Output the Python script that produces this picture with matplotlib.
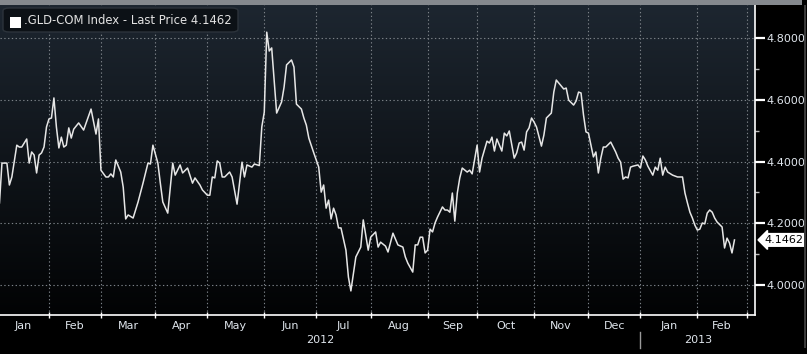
import numpy as np
import pandas as pd
import matplotlib
matplotlib.use("Agg")
import matplotlib.pyplot as plt
from matplotlib.patches import FancyBboxPatch, Rectangle
from matplotlib.transforms import blended_transform_factory

# trading session number, counted from 2012-01-03 (business days)
session = [
    1, 2, 4, 5, 6, 8, 9, 10, 12, 13, 14, 15, 16, 17, 18, 19, 20, 21, 22, 23,
    24, 25, 26, 27, 28, 29, 30, 31, 33, 35, 36, 38, 40, 41, 42, 44, 45, 46, 47, 48,
    50, 51, 52, 53, 55, 56, 57, 59, 61, 62, 63, 65, 66, 67, 69, 71, 72, 74, 75, 77,
    79, 80, 82, 83, 85, 86, 87, 88, 89, 90, 91, 92, 94, 95, 97, 99, 100, 101, 103, 104,
    106, 107, 108, 109, 110, 111, 113, 115, 116, 117, 119, 120, 121, 123, 124, 125, 126, 128, 130, 131,
    132, 133, 134, 135, 136, 137, 138, 139, 141, 142, 143, 145, 147, 148, 150, 151, 153, 154, 155, 157,
    158, 160, 162, 164, 165, 166, 168, 169, 170, 171, 172, 173, 174, 175, 176, 177, 178, 180, 181, 182,
    183, 184, 185, 186, 187, 188, 190, 191, 192, 194, 195, 196, 198, 199, 200, 201, 202, 204, 205, 206,
    207, 209, 210, 211, 212, 213, 214, 215, 216, 217, 218, 220, 221, 222, 224, 225, 226, 228, 229, 230,
    231, 233, 234, 235, 236, 237, 238, 239, 241, 242, 243, 244, 245, 246, 248, 250, 251, 252, 253, 254,
    255, 256, 257, 259, 260, 261, 262, 263, 265, 266, 267, 268, 269, 270, 271, 273, 274, 275, 276, 277,
    278, 279, 280, 281, 282, 283, 284, 285, 286, 287, 288, 289, 290, 291, 293, 294, 295, 296, 297, 298,
]
price = [
    4.266, 4.395, 4.395, 4.324, 4.350, 4.453, 4.447, 4.447, 4.473, 4.395, 4.431, 4.421, 4.363, 4.421, 4.428, 4.447, 4.512, 4.538, 4.541, 4.606,
    4.512, 4.444, 4.479, 4.447, 4.453, 4.509, 4.476, 4.505, 4.525, 4.502, 4.525, 4.570, 4.489, 4.538, 4.372, 4.350, 4.350, 4.360, 4.350, 4.405,
    4.366, 4.317, 4.214, 4.227, 4.217, 4.243, 4.269, 4.330, 4.395, 4.392, 4.453, 4.395, 4.330, 4.269, 4.233, 4.395, 4.356, 4.389, 4.363, 4.379,
    4.330, 4.347, 4.324, 4.308, 4.291, 4.291, 4.350, 4.347, 4.402, 4.395, 4.350, 4.350, 4.366, 4.350, 4.262, 4.398, 4.350, 4.389, 4.382, 4.392,
    4.387, 4.512, 4.560, 4.819, 4.758, 4.768, 4.557, 4.593, 4.641, 4.713, 4.729, 4.706, 4.586, 4.570, 4.541, 4.518, 4.476, 4.428, 4.382, 4.301,
    4.324, 4.249, 4.275, 4.214, 4.249, 4.227, 4.185, 4.185, 4.113, 4.026, 3.981, 4.091, 4.123, 4.211, 4.113, 4.155, 4.172, 4.123, 4.139, 4.126,
    4.107, 4.168, 4.130, 4.123, 4.091, 4.071, 4.042, 4.130, 4.130, 4.155, 4.155, 4.104, 4.113, 4.181, 4.172, 4.201, 4.220, 4.253, 4.243, 4.243,
    4.236, 4.298, 4.207, 4.298, 4.347, 4.379, 4.366, 4.372, 4.360, 4.453, 4.366, 4.411, 4.466, 4.460, 4.479, 4.434, 4.473, 4.434, 4.492, 4.483,
    4.499, 4.411, 4.428, 4.460, 4.463, 4.437, 4.496, 4.509, 4.541, 4.528, 4.512, 4.450, 4.486, 4.541, 4.557, 4.625, 4.664, 4.645, 4.635, 4.638,
    4.599, 4.583, 4.596, 4.625, 4.622, 4.551, 4.496, 4.492, 4.415, 4.431, 4.363, 4.411, 4.447, 4.447, 4.463, 4.431, 4.411, 4.398, 4.343, 4.350,
    4.347, 4.382, 4.385, 4.389, 4.379, 4.418, 4.405, 4.385, 4.356, 4.382, 4.372, 4.411, 4.356, 4.382, 4.366, 4.356, 4.353, 4.350, 4.350, 4.350,
    4.298, 4.266, 4.236, 4.217, 4.194, 4.178, 4.181, 4.201, 4.198, 4.233, 4.243, 4.236, 4.217, 4.204, 4.188, 4.120, 4.152, 4.136, 4.104, 4.146,
]
y_ticks = [4.0, 4.2, 4.4, 4.6, 4.8]
last_price = 4.1462
legend_text = ".GLD-COM Index - Last Price 4.1462"

W, H = 807, 354
fig = plt.figure(figsize=(W / 100, H / 100), dpi=100, facecolor="black")
ax = fig.add_axes([0, (H - 315) / H, 755 / W, 310 / H])

x0, x1 = 1.21, 306.3
y0, y1 = 3.903, 4.907

# dark slate gradient background
grad = np.linspace(0, 1, 256).reshape(-1, 1)
top = np.array([29, 38, 48]) / 255
bot = np.array([2, 3, 4]) / 255
img = top[None, None, :] * (1 - grad[..., None]) + bot[None, None, :] * grad[..., None]
img = img.reshape(256, 1, 3)
ax.imshow(img, extent=[0, 1, 0, 1], transform=ax.transAxes, aspect="auto", zorder=0)

# month boundaries on a business-day axis
bdays = pd.bdate_range("2012-01-03", "2013-04-30")
month_first = bdays.to_series().groupby([bdays.year, bdays.month]).first()
starts = [bdays.get_loc(d) for d in month_first]
labels = [d.strftime("%b") for d in month_first]
bounds = [s for s in starts if x0 < s < x1]
mids, mlabels = [], []
for a, b, lab in zip(starts[:-1], starts[1:], labels[:-1]):
    if b <= x1 + 5:
        mids.append((a + b) / 2)
        mlabels.append(lab)

ax.plot(session, price, color="#e6e6e6", lw=1.1, zorder=3)

txt_col = "#dfe5ec"
ax.set_xticks(bounds)
ax.set_xticklabels([])
ax.set_xticks(mids, minor=True)
ax.set_xticklabels(mlabels, minor=True, color=txt_col, fontsize=8)
ax.tick_params(axis="x", which="major", direction="inout", length=5, color="white", width=1)
ax.tick_params(axis="x", which="minor", length=0, pad=4)

ax.yaxis.tick_right()
ax.set_yticks(y_ticks)
ax.set_yticklabels([f"{v:.4f}" for v in y_ticks], color=txt_col, fontsize=8)
ax.set_yticks([4.1, 4.3, 4.5, 4.7], minor=True)
ax.tick_params(axis="y", which="major", direction="out", length=7, width=1.6, color="white", pad=1)
ax.tick_params(axis="y", which="minor", direction="out", length=3, width=1, color="#bbbbbb")

ax.set_xlim(x0, x1)
ax.set_ylim(y0, y1)

ax.grid(True, which="major", color="#7c8288", linestyle=(0, (1.2, 2.2)), lw=0.8, zorder=1)

for s in ["top", "left"]:
    ax.spines[s].set_visible(False)
for s in ["bottom", "right"]:
    ax.spines[s].set_color("white")
    ax.spines[s].set_linewidth(1.2)

# year row
tr = blended_transform_factory(ax.transData, fig.transFigure)
jan13 = bdays.get_loc(pd.Timestamp("2013-01-01"))
ax.text((x0 + jan13) / 2, (H - 340) / H, "2012", transform=tr, ha="center", va="center",
        color=txt_col, fontsize=8)
ax.text((jan13 + x1) / 2, (H - 340) / H, "2013", transform=tr, ha="center", va="center",
        color=txt_col, fontsize=8)
ax.plot([jan13, jan13], [(H - 332) / H, (H - 348) / H], transform=tr, color="#9a9a9a",
        lw=1, clip_on=False)

# legend box
fig.patches.append(FancyBboxPatch((3 / W, (H - 32) / H), 235 / W, 24 / H,
                                  boxstyle="round,pad=0,rounding_size=0.008",
                                  transform=fig.transFigure, fc="#0c1116", ec="#2c333b", lw=1))
fig.patches.append(Rectangle((10 / W, (H - 28) / H), 11 / W, 11 / H,
                             transform=fig.transFigure, fc="white", ec="none"))
fig.text(24 / W, (H - 21) / H, legend_text, color="#e2e2e2", fontsize=8.4, va="center")

# top strip and right border
fig.patches.append(Rectangle((0, (H - 5) / H), 802 / W, 5 / H, transform=fig.transFigure,
                             fc="#85898e", ec="none"))
fig.patches.append(Rectangle((804 / W, (H - 348) / H), 1.5 / W, 343 / H,
                             transform=fig.transFigure, fc="#3a3a3a", ec="none"))

# last price tag
ax.annotate(f"{last_price:.4f}", xy=(1.0, last_price), xycoords=("axes fraction", "data"),
            xytext=(7, 0), textcoords="offset points", ha="left", va="center",
            fontsize=8, color="black",
            bbox=dict(boxstyle="larrow,pad=0.12", fc="white", ec="white"),
            annotation_clip=False)

fig.savefig("out.png", dpi=100, facecolor="black")
